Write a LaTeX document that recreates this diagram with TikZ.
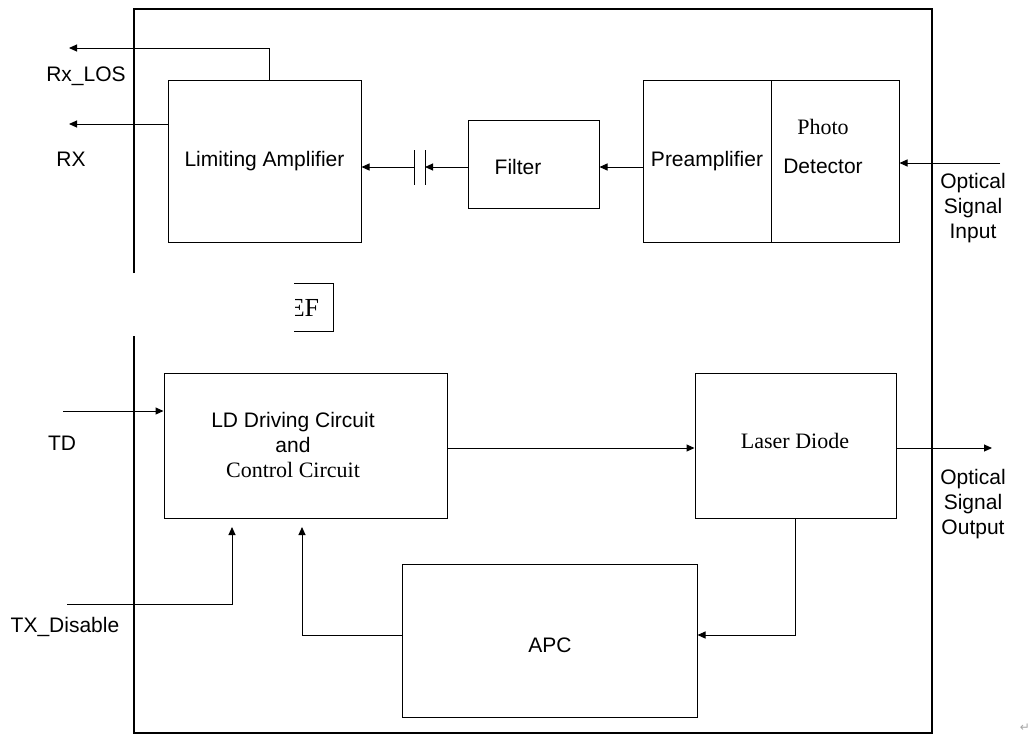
\documentclass[tikz,border=0pt]{standalone}
\usepackage{fontspec}
\setmainfont{Liberation Sans}
\newfontfamily\timesrm{Liberation Serif}
\newfontfamily\symfont{DejaVu Sans}
\usetikzlibrary{arrows.meta}

\begin{document}
\begin{tikzpicture}[
    x=1pt, y=-1pt,
    font=\fontsize{21}{25}\selectfont,
    block/.style={draw, line width=1pt, inner sep=0pt, align=center},
    sig/.style={-{Triangle[length=8pt, width=7pt]}, line width=1pt},
    plate/.style={line width=1pt},
    serif/.style={font=\timesrm\fontsize{22}{25}\selectfont, align=center},
    frame/.style={line width=2.6pt}
]
\useasboundingbox (0,0) rectangle (1035,740);

% Module outline (open on the left between the two halves)
\draw[frame] (134,273) -- (134,9) -- (932,9) -- (932,733) -- (134,733) -- (134,336);

% Clipped text box
\begin{scope}
    \clip (295,270) rectangle (345,345);
    \node[font=\timesrm\fontsize{26}{26}\selectfont] (ref) at (304,308) {EF};
\end{scope}
\draw[line width=1pt] (294,283) -- (333,283) -- (333,331) -- (294,331);

% Receiver (top half)
\node[block, minimum width=193pt, minimum height=162pt] (limamp) at (264.5,161) {Limiting Amplifier};
\node[block, minimum width=131pt, minimum height=88pt] (filter) at (533.5,164) {};
\node (filtertxt) at (518,167) {Filter};
\node[block, minimum width=128pt, minimum height=162pt] (preamp) at (707,161) {Preamplifier};
\node[block, minimum width=128pt, minimum height=162pt] (photo) at (835,161) {};
\node[serif] (phototxt) at (823,127) {Photo};
\node (detecttxt) at (823,166) {Detector};

% Coupling capacitor
\coordinate (capl) at (414,167);
\coordinate (capr) at (425,167);
\draw[plate] ([yshift=-17.5pt]capl) -- ([yshift=17.5pt]capl);
\draw[plate] ([yshift=-17.5pt]capr) -- ([yshift=17.5pt]capr);

% Receiver pins
\coordinate (rxlos) at (69,48);
\coordinate (rx) at (69,124);
\coordinate (optin) at (1000,163);
\node (rxloslbl) at (86,76) {Rx\_LOS};
\node (rxlbl) at (71,159) {RX};
\node[align=center] (optinlbl) at (973,208) {Optical\\Signal\\Input};

% Receiver signal path
\draw[sig] (optin) -- (photo.east |- optin);
\draw[sig] (preamp.west |- capr) -- (filter.east |- capr);
\draw[sig] (filter.west |- capr) -- (capr);
\draw[sig] (capl) -- (limamp.east |- capl);
\draw[sig] (limamp.west |- rx) -- (rx);
\draw[sig] ([xshift=4.5pt]limamp.north) |- (rxlos);

% Transmitter (bottom half)
\node[block, minimum width=283pt, minimum height=145pt] (ldc) at (305.5,445.5) {};
\node[align=center] (ldctxt) at (293,445) {LD Driving Circuit\\and\\{\timesrm\fontsize{22}{25}\selectfont Control Circuit}};
\node[block, minimum width=201pt, minimum height=145pt] (laser) at (795.5,445.5) {};
\node[serif] (lasertxt) at (795,441) {Laser Diode};
\node[block, minimum width=295pt, minimum height=153pt] (apc) at (549.5,640.5) {};
\node (apctxt) at (550,645) {APC};

% Transmitter pins
\coordinate (td) at (63,411);
\coordinate (txd) at (67,604);
\coordinate (txdup) at (232,527);
\coordinate (fbup) at (302,527);
\coordinate (fbrow) at (550,635);
\coordinate (outrow) at (550,448);
\coordinate (optout) at (992,448);
\node (tdlbl) at (62,443) {TD};
\node (txdlbl) at (65,627) {TX\_Disable};
\node[align=center] (optoutlbl) at (973,504) {Optical\\Signal\\Output};

% Transmitter signal path
\draw[sig] (td) -- (ldc.west |- td);
\draw[sig] (txd) -| (txdup);
\draw[sig] (ldc.east |- outrow) -- (laser.west |- outrow);
\draw[sig] (laser.east |- outrow) -- (optout);
\draw[sig] (laser.south) |- (apc.east |- fbrow);
\draw[sig] (apc.west |- fbrow) -| (fbup);

% Paragraph mark
\node[text=black!35, font=\symfont\fontsize{12}{12}\selectfont] (parmark) at (1025,728) {↵};

\end{tikzpicture}
\end{document}
